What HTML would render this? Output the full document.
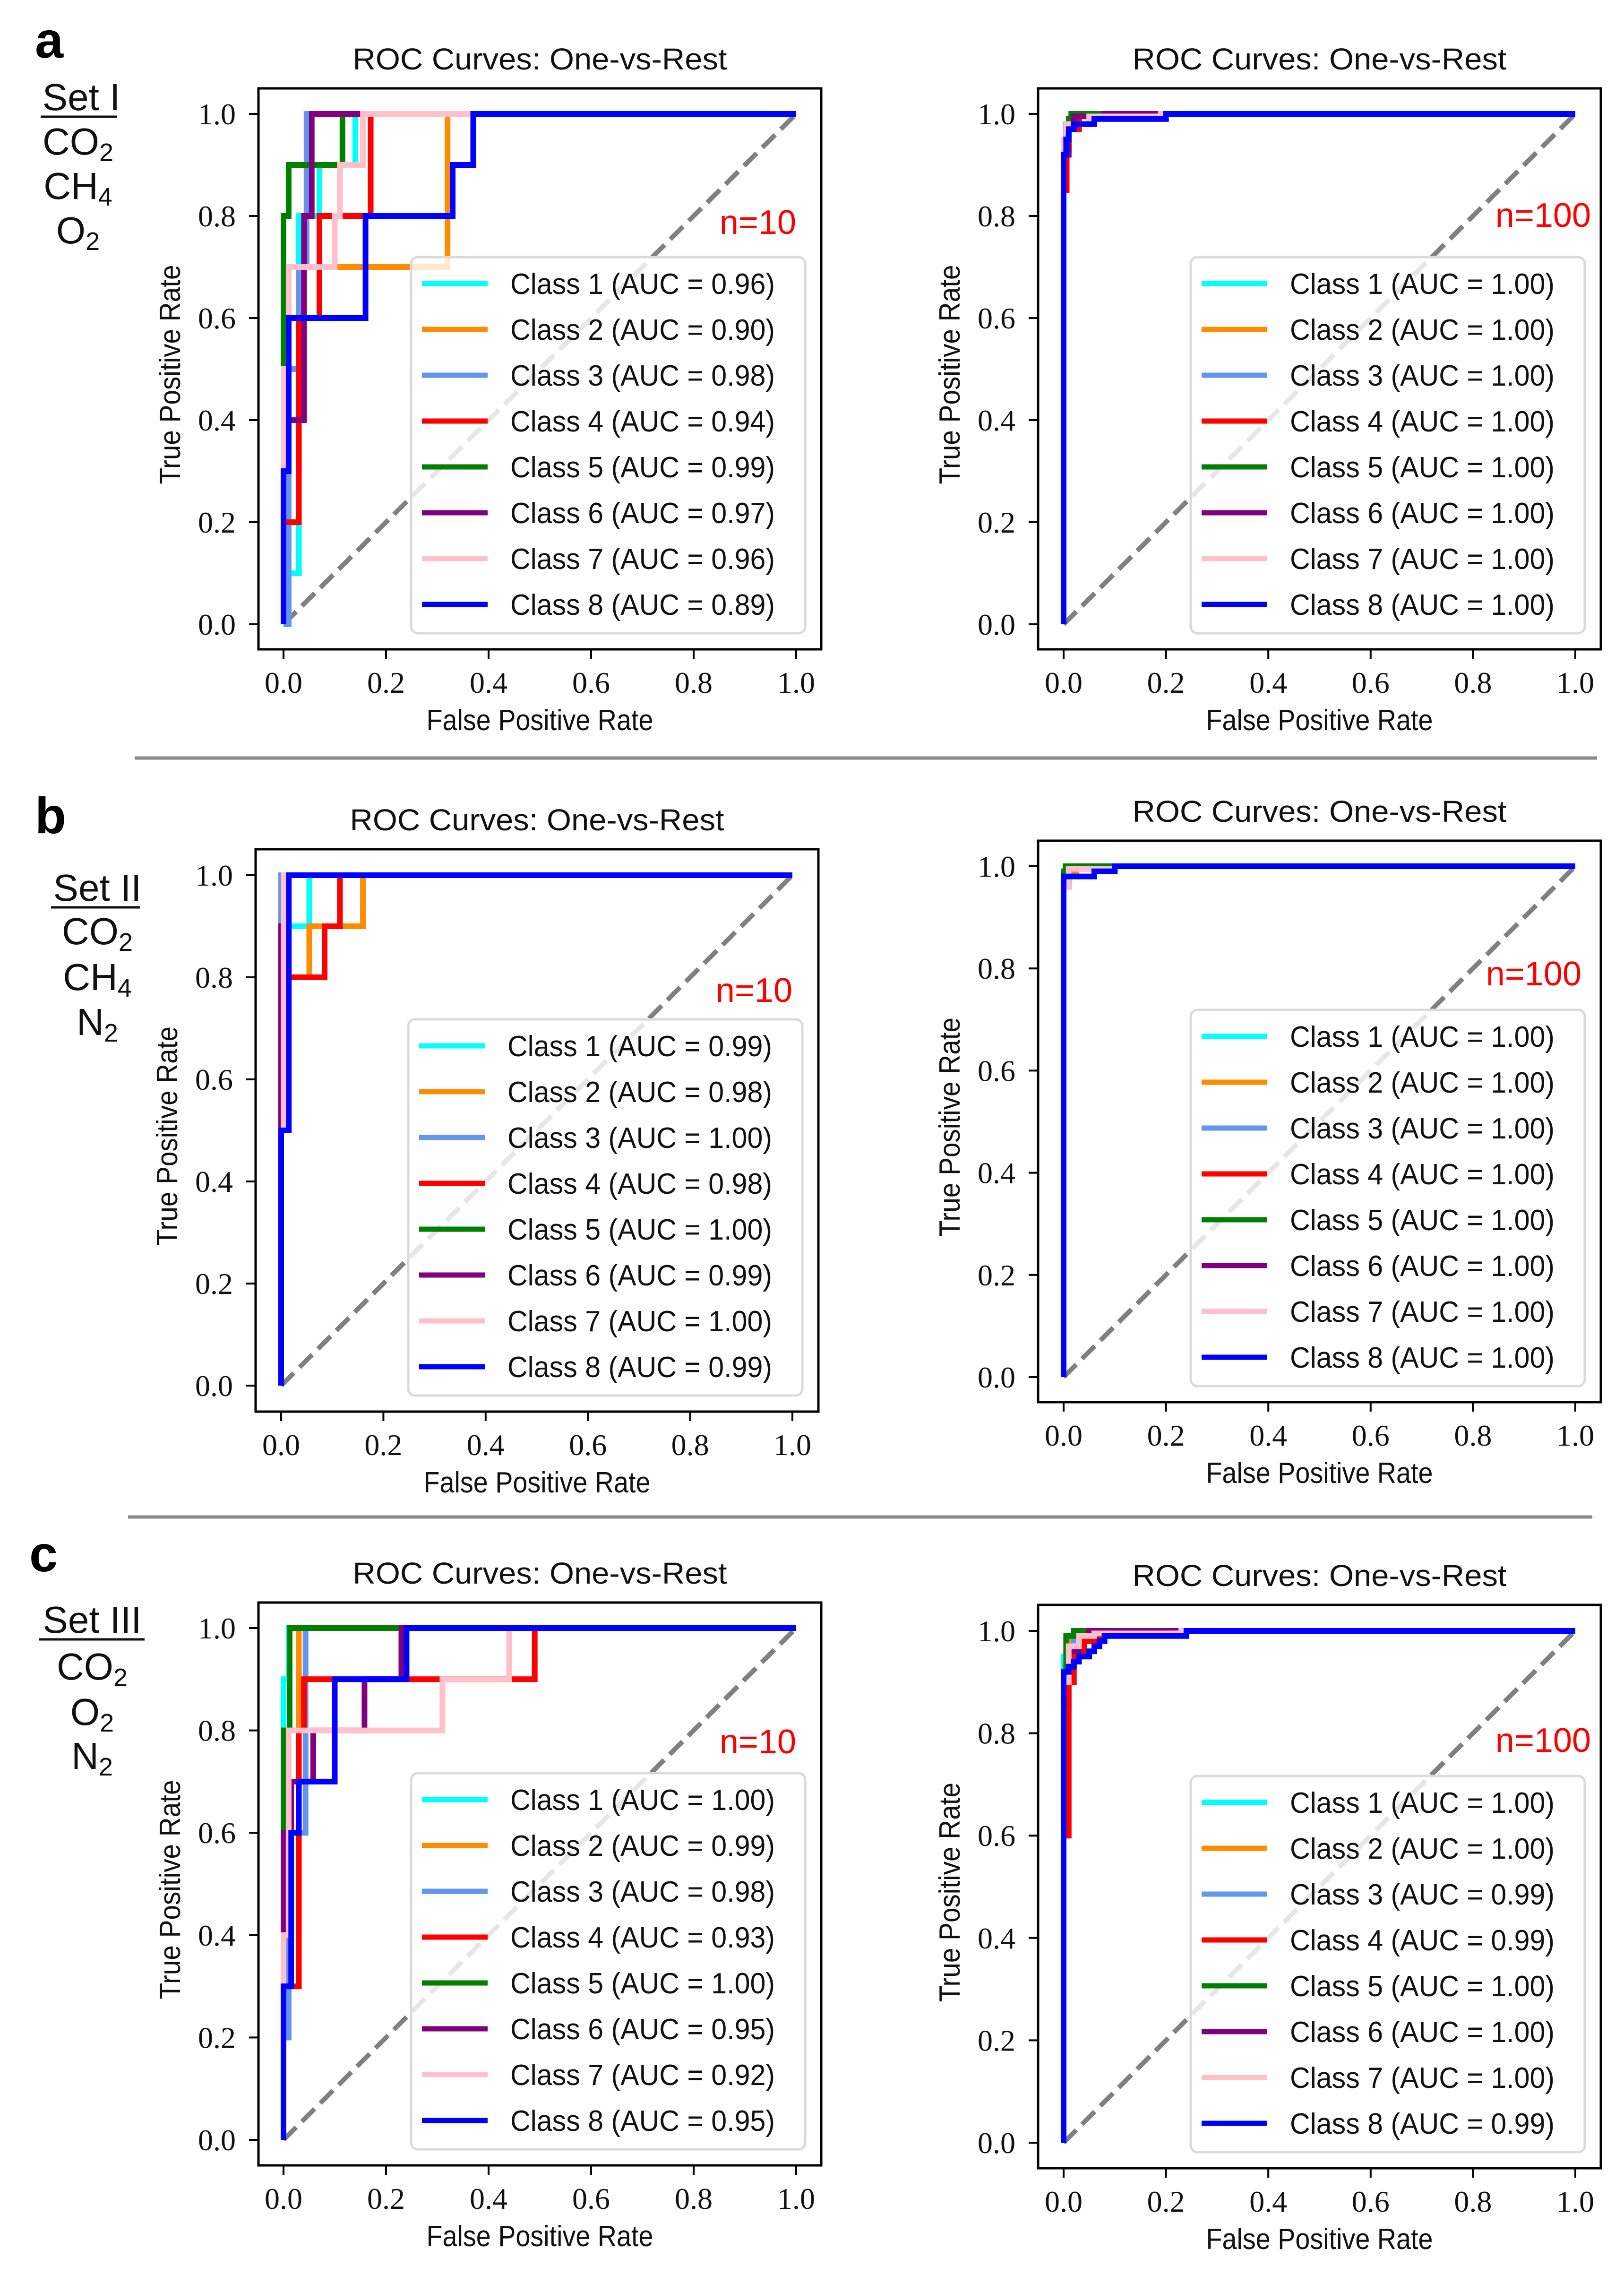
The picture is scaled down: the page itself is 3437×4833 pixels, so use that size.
<!DOCTYPE html>
<html><head><meta charset="utf-8">
<style>
html,body{margin:0;padding:0;background:#fff;}
svg{display:block;}
.tick{font-family:"Liberation Serif",serif;font-size:64px;fill:#111;}
.lab{font-family:"Liberation Sans",sans-serif;font-size:62px;fill:#111;}
.ttl{font-family:"Liberation Sans",sans-serif;font-size:64px;fill:#111;}
.leg{font-family:"Liberation Sans",sans-serif;font-size:62px;fill:#111;}
.nl{font-family:"Liberation Sans",sans-serif;font-size:72px;fill:#ff0000;}
.set{font-family:"Liberation Sans",sans-serif;font-size:80px;fill:#111;}
.pl{font-family:"Liberation Sans",sans-serif;font-size:108px;font-weight:bold;fill:#000;}
</style></head>
<body>
<svg id="fig" xmlns="http://www.w3.org/2000/svg" width="3437" height="4833" viewBox="0 0 3437 4833">
<rect x="0" y="0" width="3437" height="4833" fill="#fff"/>
<line x1="285" y1="1604" x2="3380" y2="1604" stroke="#8a8a8a" stroke-width="7"/>
<line x1="271" y1="3210" x2="3370" y2="3210" stroke="#8a8a8a" stroke-width="7"/>

<text class="pl" x="74" y="122">a</text>
<text class="pl" x="74" y="1763">b</text>
<text class="pl" x="62" y="3325">c</text>

<g>
<text class="set" x="172" y="233" text-anchor="middle">Set I</text>
<line x1="86" y1="247" x2="248" y2="247" stroke="#111" stroke-width="5"/>
<text class="set" x="165" y="327" text-anchor="middle">CO<tspan font-size="54" dy="14">2</tspan></text>
<text class="set" x="165" y="421" text-anchor="middle">CH<tspan font-size="54" dy="14">4</tspan></text>
<text class="set" x="165" y="515" text-anchor="middle">O<tspan font-size="54" dy="14">2</tspan></text>
</g>
<g>
<text class="set" x="206" y="1906" text-anchor="middle">Set II</text>
<line x1="108" y1="1920" x2="296" y2="1920" stroke="#111" stroke-width="5"/>
<text class="set" x="206" y="1998" text-anchor="middle">CO<tspan font-size="54" dy="14">2</tspan></text>
<text class="set" x="206" y="2095" text-anchor="middle">CH<tspan font-size="54" dy="14">4</tspan></text>
<text class="set" x="206" y="2190" text-anchor="middle">N<tspan font-size="54" dy="14">2</tspan></text>
</g>
<g>
<text class="set" x="195" y="3455" text-anchor="middle">Set III</text>
<line x1="82" y1="3469" x2="306" y2="3469" stroke="#111" stroke-width="5"/>
<text class="set" x="195" y="3554" text-anchor="middle">CO<tspan font-size="54" dy="14">2</tspan></text>
<text class="set" x="195" y="3650" text-anchor="middle">O<tspan font-size="54" dy="14">2</tspan></text>
<text class="set" x="195" y="3743" text-anchor="middle">N<tspan font-size="54" dy="14">2</tspan></text>
</g>
</svg>
<script>
// ---------- data ----------
const classNames = ["Class 1","Class 2","Class 3","Class 4","Class 5","Class 6","Class 7","Class 8"];
const classColors = ["#00ffff","#ff8c00","#6495ed","#ff0000","#008000","#800080","#ffc0cb","#0000ff"];
const tickLabels = ["0.0","0.2","0.4","0.6","0.8","1.0"];
const tickValues = [0,0.2,0.4,0.6,0.8,1.0];

// Set I, n=10
const aucA10 = ["0.96","0.90","0.98","0.94","0.99","0.97","0.96","0.89"];
const fprA10 = [
 [0,0.01,0.01,0.03,0.03,0.07,0.07,0.14,0.14,1],
 [0,0,0.32,0.32,1],
 [0,0.01,0.01,0.03,0.03,0.045,0.045,1],
 [0,0,0.03,0.03,0.07,0.07,0.17,0.17,1],
 [0,0,0.01,0.01,0.115,0.115,1],
 [0,0,0.04,0.04,0.055,0.055,1],
 [0,0,0.01,0.01,0.1,0.1,0.11,0.11,0.155,0.155,1],
 [0,0,0.01,0.01,0.16,0.16,0.33,0.33,0.37,0.37,1]];
const tprA10 = [
 [0,0,0.1,0.1,0.8,0.8,0.9,0.9,1,1],
 [0,0.7,0.7,1,1],
 [0,0,0.5,0.5,0.7,0.7,1,1],
 [0,0.2,0.2,0.6,0.6,0.8,0.8,1,1],
 [0,0.8,0.8,0.9,0.9,1,1],
 [0,0.4,0.4,0.8,0.8,1,1],
 [0,0.5,0.5,0.7,0.7,0.8,0.8,0.9,0.9,1,1],
 [0,0.3,0.3,0.6,0.6,0.8,0.8,0.9,0.9,1,1]];

// Set I, n=100
const aucA100 = ["1.00","1.00","1.00","1.00","1.00","1.00","1.00","1.00"];
const fprA100 = [
 [0,0,0.005,0.005,0.02,0.02,1],
 [0,0,0.005,0.005,0.025,0.025,1],
 [0,0,0.004,0.004,0.02,0.02,1],
 [0,0,0.006,0.006,0.03,0.03,1],
 [0,0,0.01,0.01,0.015,0.015,1],
 [0,0,0.01,0.01,0.02,0.02,0.08,0.08,1],
 [0,0,0.005,0.005,0.05,0.05,0.19,0.19,1],
 [0,0,0.005,0.005,0.01,0.01,0.02,0.02,0.06,0.06,0.2,0.2,1]];
const tprA100 = [
 [0,0.93,0.93,0.98,0.98,1,1],
 [0,0.85,0.85,0.97,0.97,1,1],
 [0,0.9,0.9,0.98,0.98,1,1],
 [0,0.85,0.85,0.97,0.97,1,1],
 [0,0.93,0.93,0.99,0.99,1,1],
 [0,0.92,0.92,0.97,0.97,0.995,0.995,1,1],
 [0,0.95,0.95,0.98,0.98,0.995,0.995,1,1],
 [0,0.92,0.92,0.95,0.95,0.97,0.97,0.98,0.98,0.99,0.99,1,1]];

// Set II, n=10
const aucB10 = ["0.99","0.98","1.00","0.98","1.00","0.99","1.00","0.99"];
const fprB10 = [
 [0,0,0.055,0.055,1],
 [0,0,0.055,0.055,0.16,0.16,1],
 [0,0,1],
 [0,0,0.085,0.085,0.115,0.115,1],
 [0,0,0.01,0.01,1],
 [0,0,0.012,0.012,1],
 [0,0,0.005,0.005,1],
 [0,0,0.015,0.015,1]];
const tprB10 = [
 [0,0.9,0.9,1,1],
 [0,0.8,0.8,0.9,0.9,1,1],
 [0,1,1],
 [0,0.8,0.8,0.9,0.9,1,1],
 [0,0.9,0.9,1,1],
 [0,0.9,0.9,1,1],
 [0,0.5,0.5,1,1],
 [0,0.5,0.5,1,1]];

// Set II, n=100
const aucB100 = ["1.00","1.00","1.00","1.00","1.00","1.00","1.00","1.00"];
const fprB100 = [
 [0,0,0.005,0.005,1],
 [0,0,0.01,0.01,0.025,0.025,1],
 [0,0,0.005,0.005,1],
 [0,0,0.01,0.01,1],
 [0,0,0.004,0.004,1],
 [0,0,0.01,0.01,0.1,0.1,1],
 [0,0,0.01,0.01,0.1,0.1,1],
 [0,0,0.06,0.06,0.1,0.1,1]];
const tprB100 = [
 [0,0.98,0.98,1,1],
 [0,0.97,0.97,0.99,0.99,1,1],
 [0,0.98,0.98,1,1],
 [0,0.97,0.97,1,1],
 [0,0.99,0.99,1,1],
 [0,0.96,0.96,0.995,0.995,1,1],
 [0,0.96,0.96,0.995,0.995,1,1],
 [0,0.98,0.98,0.99,0.99,1,1]];

// Set III, n=10
const aucC10 = ["1.00","0.99","0.98","0.93","1.00","0.95","0.92","0.95"];
const fprC10 = [
 [0,0,0.01,0.01,1],
 [0,0,0.03,0.03,1],
 [0,0,0.01,0.01,0.043,0.043,1],
 [0,0,0.03,0.03,0.04,0.04,0.49,0.49,1],
 [0,0,0.012,0.012,1],
 [0,0,0.015,0.015,0.058,0.058,0.158,0.158,0.23,0.23,1],
 [0,0,0.01,0.01,0.31,0.31,0.44,0.44,1],
 [0,0,0.015,0.015,0.03,0.03,0.1,0.1,0.24,0.24,1]];
const tprC10 = [
 [0,0.9,0.9,1,1],
 [0,0.8,0.8,1,1],
 [0,0.2,0.2,0.6,0.6,1,1],
 [0,0.3,0.3,0.8,0.8,0.9,0.9,1,1],
 [0,0.8,0.8,1,1],
 [0,0.6,0.6,0.7,0.7,0.8,0.8,0.9,0.9,1,1],
 [0,0.4,0.4,0.8,0.8,0.9,0.9,1,1],
 [0,0.3,0.3,0.6,0.6,0.7,0.7,0.9,0.9,1,1]];

// Set III, n=100
const aucC100 = ["1.00","1.00","0.99","0.99","1.00","1.00","1.00","0.99"];
const fprC100 = [
 [0,0,0.01,0.01,0.02,0.02,1],
 [0,0,0.01,0.01,0.03,0.03,1],
 [0,0,0.01,0.01,0.02,0.02,0.05,0.05,1],
 [0,0,0.01,0.01,0.02,0.02,0.04,0.04,0.07,0.07,1],
 [0,0,0.005,0.005,0.02,0.02,1],
 [0,0,0.01,0.01,0.03,0.03,0.05,0.05,1],
 [0,0,0.01,0.01,0.03,0.03,0.06,0.06,0.23,0.23,1],
 [0,0,0.01,0.01,0.02,0.02,0.03,0.03,0.05,0.05,0.06,0.06,0.07,0.07,0.08,0.08,0.24,0.24,1]];
const tprC100 = [
 [0,0.95,0.95,0.99,0.99,1,1],
 [0,0.92,0.92,0.98,0.98,1,1],
 [0,0.85,0.85,0.93,0.93,0.98,0.98,1,1],
 [0,0.6,0.6,0.9,0.9,0.96,0.96,0.98,0.98,1,1],
 [0,0.92,0.92,0.99,0.99,1,1],
 [0,0.9,0.9,0.96,0.96,0.99,0.99,1,1],
 [0,0.9,0.9,0.97,0.97,0.99,0.99,0.995,0.995,1,1],
 [0,0.92,0.92,0.93,0.93,0.94,0.94,0.95,0.95,0.96,0.96,0.97,0.97,0.98,0.98,0.99,0.99,1,1]];

// ---------- layout (geometry only) ----------
const panels = [
 {id:"a-n10", L:547,T:187,R:1738,B:1374,x0:600,x1:1685,y0:1321,y1:241,nl:"n=10",nx:1685,ny:495,fpr:fprA10,tpr:tprA10,auc:aucA10},
 {id:"a-n100",L:2197,T:187,R:3388,B:1374,x0:2251,x1:3334,y0:1321,y1:241,nl:"n=100",nx:3367,ny:480,fpr:fprA100,tpr:tprA100,auc:aucA100},
 {id:"b-n10", L:541,T:1797,R:1732,B:2987,x0:595,x1:1677,y0:2932,y1:1852,nl:"n=10",nx:1677,ny:2120,fpr:fprB10,tpr:tprB10,auc:aucB10},
 {id:"b-n100",L:2197,T:1779,R:3388,B:2967,x0:2251,x1:3334,y0:2914,y1:1833,nl:"n=100",nx:3347,ny:2085,fpr:fprB100,tpr:tprB100,auc:aucB100},
 {id:"c-n10", L:547,T:3391,R:1738,B:4582,x0:600,x1:1685,y0:4528,y1:3445,nl:"n=10",nx:1685,ny:3710,fpr:fprC10,tpr:tprC10,auc:aucC10},
 {id:"c-n100",L:2197,T:3396,R:3388,B:4588,x0:2251,x1:3334,y0:4534,y1:3451,nl:"n=100",nx:3367,ny:3707,fpr:fprC100,tpr:tprC100,auc:aucC100}
];

const NS = "http://www.w3.org/2000/svg";
const fig = document.getElementById("fig");
function mk(tag, parent, attrs) {
  const e = document.createElementNS(NS, tag);
  for (const k in attrs) e.setAttribute(k, attrs[k]);
  parent.appendChild(e);
  return e;
}

panels.forEach(function(p) {
  const xs = v => p.x0 + v * (p.x1 - p.x0);
  const ys = v => p.y0 - v * (p.y0 - p.y1);
  const g = mk("g", fig, {});
  
  

  const t = mk("text", g, {class:"ttl", x:(p.L+p.R)/2, y:p.T-40, "text-anchor":"middle", textLength:792, lengthAdjust:"spacingAndGlyphs"});
  t.textContent = "ROC Curves: One-vs-Rest";
  
  

  const d = mk("line", g, {x1:xs(0), y1:ys(0), x2:xs(1), y2:ys(1), stroke:"#808080", "stroke-width":10, "stroke-dasharray":"38 17"});
  
  

  for (let c = 0; c < 8; c++) {
    const f = p.fpr[c], tp = p.tpr[c];
    let pts = [];
    for (let i = 0; i < f.length; i++) pts.push(xs(f[i]).toFixed(1) + "," + ys(tp[i]).toFixed(1));
    const pl = mk("polyline", g, {points:pts.join(" "), fill:"none", stroke:classColors[c], "stroke-width":12, "stroke-linejoin":"miter"});
    
    
  }

  const box = mk("rect", g, {x:p.L, y:p.T, width:p.R-p.L, height:p.B-p.T, fill:"none", stroke:"#000", "stroke-width":5});
  
  

  for (let i = 0; i < tickValues.length; i++) {
    const X = xs(tickValues[i]);
    const tx = mk("line", g, {x1:X, y1:p.B, x2:X, y2:p.B+20, stroke:"#000", "stroke-width":4});
    
    
    const lx = mk("text", g, {class:"tick", x:X, y:p.B+92, "text-anchor":"middle"});
    lx.textContent = tickLabels[i];
    
    
    const Y = ys(tickValues[i]);
    const ty = mk("line", g, {x1:p.L-20, y1:Y, x2:p.L, y2:Y, stroke:"#000", "stroke-width":4});
    
    
    const ly = mk("text", g, {class:"tick", x:p.L-48, y:Y+22, "text-anchor":"end"});
    ly.textContent = tickLabels[i];
    
    
  }

  const xl = mk("text", g, {class:"lab", x:(p.L+p.R)/2, y:p.B+171, "text-anchor":"middle", textLength:480, lengthAdjust:"spacingAndGlyphs"});
  xl.textContent = "False Positive Rate";
  
  
  const cy = (p.T+p.B)/2 + 12;
  const yl = mk("text", g, {class:"lab", x:0, y:0, "text-anchor":"middle", textLength:464, lengthAdjust:"spacingAndGlyphs", transform:"translate(" + (p.L-166) + "," + cy + ") rotate(-90)"});
  yl.textContent = "True Positive Rate";
  
  

  const nl = mk("text", g, {class:"nl", x:p.nx, y:p.ny, "text-anchor":"end"});
  nl.textContent = p.nl;
  
  

  const LW = 834, LH = 796;
  const lx0 = p.R - 34 - LW, ly0 = p.B - 34 - LH;
  const lg = mk("g", g, {});
  
  
  mk("rect", lg, {x:lx0, y:ly0, width:LW, height:LH, rx:14, fill:"rgba(255,255,255,0.8)", stroke:"#dadada", "stroke-width":5});
  for (let c = 0; c < 8; c++) {
    const yy = ly0 + 56 + c * 97;
    const e = mk("g", lg, {});
    
    
    mk("line", e, {x1:lx0+23, y1:yy, x2:lx0+162, y2:yy, stroke:classColors[c], "stroke-width":11});
    const tt = mk("text", e, {class:"leg", x:lx0+210, y:yy+22, textLength:560, lengthAdjust:"spacingAndGlyphs"});
    tt.textContent = classNames[c] + " (AUC = " + p.auc[c] + ")";
  }
});
</script>
</body></html>
